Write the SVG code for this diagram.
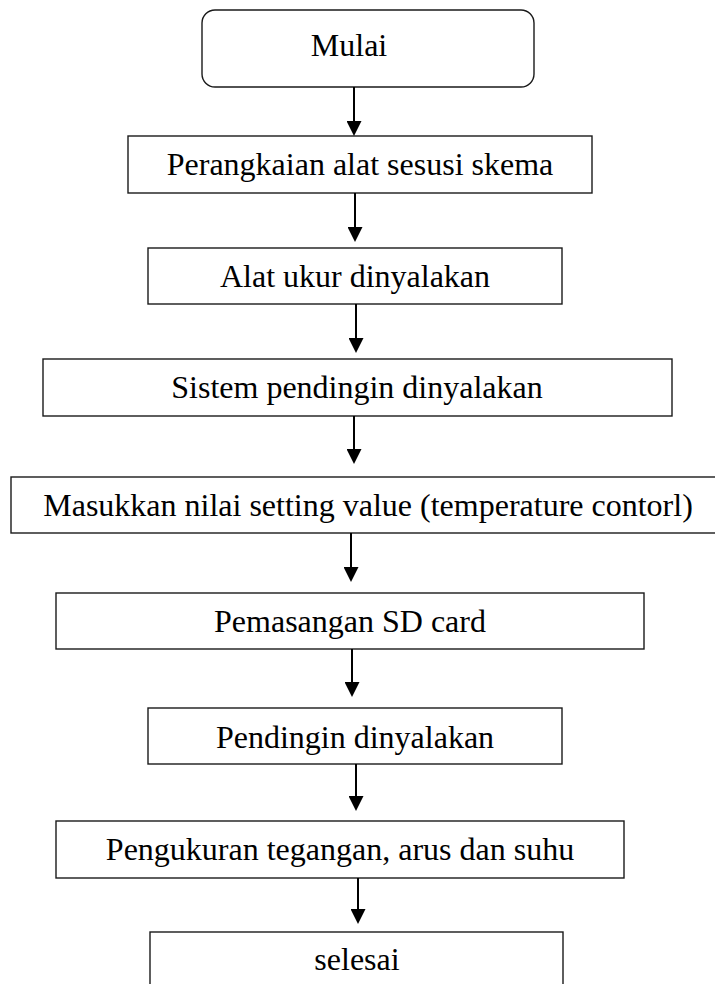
<svg xmlns="http://www.w3.org/2000/svg" width="715" height="984" viewBox="0 0 715 984">
<style>
.box{fill:#fff;stroke:#1a1a1a;stroke-width:1.4}
.lbl{font-family:"Liberation Serif","Times New Roman",serif;font-size:32px;fill:#000;text-anchor:middle}
.conn{stroke:#000;stroke-width:2;fill:none;marker-end:url(#ah)}
</style>
<defs>
<marker id="ah" viewBox="0 0 15 15" refX="1" refY="7.5" markerWidth="15" markerHeight="15" markerUnits="userSpaceOnUse" orient="auto">
<path d="M0,0 L15,7.5 L0,15 z" fill="#000"/>
</marker>
</defs>
<rect width="715" height="984" fill="#fff"/>
<g id="n1"><rect class="box" x="202" y="10" width="332" height="77" rx="13"/><text class="lbl" x="349" y="56">Mulai</text></g>
<g id="n2"><rect class="box" x="128" y="136" width="464" height="57"/><text class="lbl" x="360" y="175">Perangkaian alat sesusi skema</text></g>
<g id="n3"><rect class="box" x="148" y="248" width="414" height="56"/><text class="lbl" x="355" y="287">Alat ukur dinyalakan</text></g>
<g id="n4"><rect class="box" x="43" y="359" width="629" height="57"/><text class="lbl" x="357" y="398">Sistem pendingin dinyalakan</text></g>
<g id="n5"><rect class="box" x="11" y="477" width="715" height="56"/><text class="lbl" x="368" y="516">Masukkan nilai setting value (temperature contorl)</text></g>
<g id="n6"><rect class="box" x="56" y="593" width="588" height="56"/><text class="lbl" x="350" y="632">Pemasangan SD card</text></g>
<g id="n7"><rect class="box" x="148" y="708" width="414" height="56"/><text class="lbl" x="355" y="748">Pendingin dinyalakan</text></g>
<g id="n8"><rect class="box" x="56" y="821" width="568" height="57"/><text class="lbl" x="340" y="860">Pengukuran tegangan, arus dan suhu</text></g>
<g id="n9"><rect class="box" x="150" y="932" width="413" height="70"/><text class="lbl" x="357" y="970">selesai</text></g>
<g id="connectors">
<line class="conn" x1="354" y1="87" x2="354" y2="122"/>
<line class="conn" x1="355" y1="193" x2="355" y2="228"/>
<line class="conn" x1="356" y1="304" x2="356" y2="339"/>
<line class="conn" x1="354" y1="416" x2="354" y2="450"/>
<line class="conn" x1="351" y1="533" x2="351" y2="568"/>
<line class="conn" x1="352" y1="649" x2="352" y2="683"/>
<line class="conn" x1="356" y1="764" x2="356" y2="797"/>
<line class="conn" x1="358" y1="878" x2="358" y2="910"/>
</g>
</svg>
